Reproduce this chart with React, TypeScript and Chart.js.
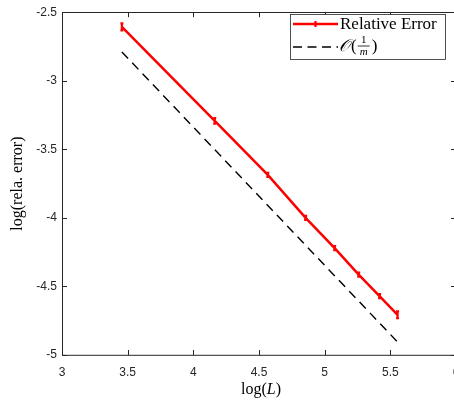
import React, { useEffect, useRef } from "react";
import { Chart, registerables } from "chart.js";
Chart.register(...registerables);

const logL = [3.456, 4.163, 4.567, 4.855, 5.076, 5.259, 5.418, 5.555];
const logErr = [-2.607, -3.293, -3.686, -4.0, -4.221, -4.414, -4.571, -4.707];
const errBar = [0.025, 0.02, 0.015, 0.015, 0.015, 0.015, 0.015, 0.025];
const refX = [3.456, 5.555];
const refY = [-2.79, -4.905];
const xTicks = [3, 3.5, 4, 4.5, 5, 5.5, 6];
const yTicks = [-5, -4.5, -4, -3.5, -3, -2.5];
const seriesLabel = "Relative Error";
const xTitle = "log(";
const yTitle = "log(rela. error)";

const AX = "#262626";
const SERIF = "'Liberation Serif', 'DejaVu Serif', serif";
const SANS = "'Liberation Sans', Arial, sans-serif";

const framePlugin = {
  id: "frame",
  afterDatasetsDraw(chart: any) {
    const { ctx, scales } = chart;
    const x = scales.x, y = scales.y;
    ctx.save();
    ctx.strokeStyle = "#ff0000";
    ctx.lineWidth = 2.2;
    logL.forEach((lx, i) => {
      const px = x.getPixelForValue(lx);
      const y1 = y.getPixelForValue(logErr[i] - errBar[i]);
      const y2 = y.getPixelForValue(logErr[i] + errBar[i]);
      ctx.beginPath();
      ctx.moveTo(px, y1);
      ctx.lineTo(px, y2);
      ctx.moveTo(px - 1.5, y1);
      ctx.lineTo(px + 1.5, y1);
      ctx.moveTo(px - 1.5, y2);
      ctx.lineTo(px + 1.5, y2);
      ctx.stroke();
    });
    ctx.restore();
  },
  afterDraw(chart: any) {
    const { ctx, chartArea: a, scales } = chart;
    const x = scales.x, y = scales.y;
    ctx.save();
    ctx.strokeStyle = AX;
    ctx.lineWidth = 1;
    ctx.strokeRect(Math.round(a.left) + 0.5, Math.round(a.top) + 0.5, a.right - a.left, a.bottom - a.top);
    ctx.beginPath();
    xTicks.forEach((v) => {
      const px = Math.round(x.getPixelForValue(v)) + 0.5;
      ctx.moveTo(px, a.bottom);
      ctx.lineTo(px, a.bottom - 5);
      ctx.moveTo(px, a.top);
      ctx.lineTo(px, a.top + 5);
    });
    yTicks.forEach((v) => {
      const py = Math.round(y.getPixelForValue(v)) + 0.5;
      ctx.moveTo(a.left, py);
      ctx.lineTo(a.left + 5, py);
      ctx.moveTo(a.right, py);
      ctx.lineTo(a.right - 5, py);
    });
    ctx.stroke();

    // axis titles
    ctx.fillStyle = "#000";
    ctx.textBaseline = "middle";
    const TF = 16;
    const cx = (a.left + a.right) / 2 + 2;
    const t1 = xTitle, t2 = "L", t3 = ")";
    ctx.font = `${TF}px ${SERIF}`;
    const w1 = ctx.measureText(t1).width;
    const w3 = ctx.measureText(t3).width;
    ctx.font = `italic ${TF}px ${SERIF}`;
    const w2 = ctx.measureText(t2).width;
    const sx = cx - (w1 + w2 + w3) / 2;
    const ty = 390;
    ctx.textAlign = "left";
    ctx.font = `${TF}px ${SERIF}`;
    ctx.fillText(t1, sx, ty);
    ctx.font = `italic ${TF}px ${SERIF}`;
    ctx.fillText(t2, sx + w1, ty);
    ctx.font = `${TF}px ${SERIF}`;
    ctx.fillText(t3, sx + w1 + w2, ty);

    ctx.save();
    ctx.translate(18, (a.top + a.bottom) / 2);
    ctx.rotate(-Math.PI / 2);
    ctx.textAlign = "center";
    ctx.fillText(yTitle, 0, 0);
    ctx.restore();

    // legend
    const lx = 290.5, ly = 14.5, lw = 155, lh = 45;
    ctx.fillStyle = "#fff";
    ctx.fillRect(lx, ly, lw, lh);
    ctx.strokeStyle = AX;
    ctx.lineWidth = 0.8;
    ctx.strokeRect(lx, ly, lw, lh);

    const r1 = 24, r2 = 47;
    ctx.strokeStyle = "#ff0000";
    ctx.lineWidth = 2.5;
    ctx.beginPath();
    ctx.moveTo(293, r1);
    ctx.lineTo(338, r1);
    ctx.stroke();
    ctx.lineWidth = 2.2;
    ctx.beginPath();
    ctx.moveTo(315.5, r1 - 3);
    ctx.lineTo(315.5, r1 + 3);
    ctx.stroke();

    ctx.strokeStyle = "#000";
    ctx.lineWidth = 1.4;
    ctx.setLineDash([9, 5.5]);
    ctx.beginPath();
    ctx.moveTo(293, r2);
    ctx.lineTo(338, r2);
    ctx.stroke();
    ctx.setLineDash([]);

    ctx.fillStyle = "#000";
    ctx.textAlign = "left";
    ctx.font = `17px ${SERIF}`;
    ctx.fillText(seriesLabel, 340, r1 + 1);

    ctx.font = `italic 17px ${SERIF}`;
    ctx.fillText("\u{1D4AA}", 339, r2);
    const wo = ctx.measureText("\u{1D4AA}").width;
    ctx.font = `17px ${SERIF}`;
    let px = Math.max(339 + wo + 1, 351);
    ctx.fillText("(", px, r2);
    px += ctx.measureText("(").width + 1;
    ctx.textAlign = "center";
    ctx.font = `11px ${SERIF}`;
    ctx.fillText("1", px + 6, r2 - 7);
    ctx.font = `italic 11px ${SERIF}`;
    ctx.fillText("m", px + 6, r2 + 5);
    ctx.lineWidth = 0.8;
    ctx.beginPath();
    ctx.moveTo(px, r2 - 1);
    ctx.lineTo(px + 12, r2 - 1);
    ctx.stroke();
    ctx.textAlign = "left";
    ctx.font = `17px ${SERIF}`;
    ctx.fillText(")", px + 14, r2);

    ctx.restore();
  },
};

export default function App() {
  const ref = useRef<HTMLCanvasElement>(null);
  useEffect(() => {
    if (!ref.current) return;
    const chart = new Chart(ref.current, {
      type: "scatter",
      data: {
        datasets: [
          {
            label: seriesLabel,
            data: logL.map((v, i) => ({ x: v, y: logErr[i] })),
            showLine: true,
            borderColor: "#ff0000",
            backgroundColor: "#ff0000",
            borderWidth: 2.5,
            pointRadius: 0,
            order: 1,
          },
          {
            label: "O(1/m)",
            data: refX.map((v, i) => ({ x: v, y: refY[i] })),
            showLine: true,
            borderColor: "#000000",
            borderWidth: 1.4,
            borderDash: [9, 6],
            pointRadius: 0,
            order: 2,
          },
        ],
      },
      options: {
        animation: false,
        responsive: false,
        maintainAspectRatio: false,
        layout: { padding: { top: 5, right: 14, left: 0, bottom: 0 } },
        plugins: { legend: { display: false }, tooltip: { enabled: false } },
        scales: {
          x: {
            type: "linear",
            min: 3,
            max: 6,
            afterBuildTicks: (s: any) => {
              s.ticks = xTicks.map((v) => ({ value: v }));
            },
            afterFit: (s: any) => {
              s.height = 50;
            },
            grid: { display: false, drawTicks: false },
            border: { display: false },
            ticks: {
              padding: 10,
              color: AX,
              font: { family: SANS, size: 12 },
              maxRotation: 0,
              autoSkip: false,
              callback: (v: any) => String(v),
            },
          },
          y: {
            type: "linear",
            min: -5,
            max: -2.5,
            afterBuildTicks: (s: any) => {
              s.ticks = yTicks.map((v) => ({ value: v }));
            },
            afterFit: (s: any) => {
              s.width = 62;
            },
            grid: { display: false, drawTicks: false },
            border: { display: false },
            ticks: {
              padding: 5,
              color: AX,
              font: { family: SANS, size: 12 },
              autoSkip: false,
              callback: (v: any) => String(v),
            },
          },
        },
      },
      plugins: [framePlugin],
    });
    return () => chart.destroy();
  }, []);
  return (
    <div style={{ position: "fixed", left: 0, top: 0, width: 470, height: 405, background: "#fff" }}>
      <canvas ref={ref} width={470} height={405} style={{ width: 470, height: 405 }} />
    </div>
  );
}
